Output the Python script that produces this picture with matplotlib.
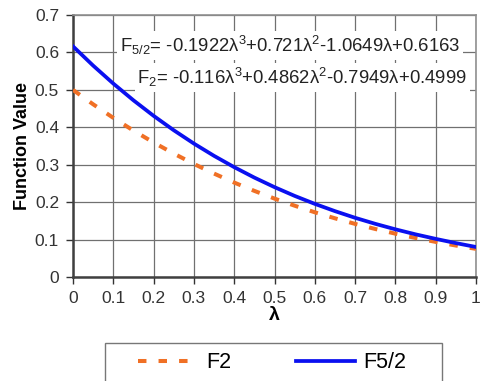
import matplotlib
matplotlib.use("Agg")
import matplotlib.pyplot as plt
from matplotlib.patches import Rectangle

plt.rcParams['font.family'] = ['Liberation Sans', 'DejaVu Sans']
plt.rcParams['mathtext.fontset'] = 'custom'
plt.rcParams['mathtext.rm'] = 'Liberation Sans'
plt.rcParams['mathtext.it'] = 'Liberation Sans'

# lambda values and function values
lam = [0, 0.05, 0.1, 0.15, 0.2, 0.25, 0.3, 0.35, 0.4, 0.45, 0.5,
       0.55, 0.6, 0.65, 0.7, 0.75, 0.8, 0.85, 0.9, 0.95, 1.0]
f52 = [0.6163, 0.5648, 0.5168, 0.4721, 0.4306, 0.3921, 0.3565, 0.3237, 0.2935, 0.2656, 0.2401,
       0.2167, 0.1954, 0.1760, 0.1582, 0.1421, 0.1274, 0.1140, 0.1019, 0.0906, 0.0802]
f2 = [0.4999, 0.4614, 0.4252, 0.3912, 0.3594, 0.3298, 0.3021, 0.2763, 0.2523, 0.2301, 0.2095,
      0.1905, 0.1729, 0.1568, 0.1419, 0.1283, 0.1158, 0.1043, 0.0938, 0.0841, 0.0752]
xticks = [0, 0.1, 0.2, 0.3, 0.4, 0.5, 0.6, 0.7, 0.8, 0.9, 1]
xlabels = ['0', '0.1', '0.2', '0.3', '0.4', '0.5', '0.6', '0.7', '0.8', '0.9', '1']
yticks = [0, 0.1, 0.2, 0.3, 0.4, 0.5, 0.6, 0.7]
ylabels = ['0', '0.1', '0.2', '0.3', '0.4', '0.5', '0.6', '0.7']
eq52 = r'F$_{5/2}$= -0.1922λ$^{3}$+0.721λ$^{2}$-1.0649λ+0.6163'
eq2 = r'F$_{2}$= -0.116λ$^{3}$+0.4862λ$^{2}$-0.7949λ+0.4999'

fig = plt.figure(figsize=(4.81, 3.81), dpi=100)
ax = fig.add_axes([73 / 481, 1 - 277 / 381, (476 - 73) / 481, (277 - 15) / 381])

ax.plot(lam, f2, color='#F07025', lw=2.9, dashes=(2.1, 3.0), dash_capstyle='butt', label='F2', zorder=3)
ax.plot(lam, f52, color='#0A10F0', lw=2.7, label='F5/2', zorder=4)

ax.set_xlim(0, 1)
ax.set_ylim(0, 0.7)
ax.set_xticks(xticks)
ax.set_xticklabels(xlabels)
ax.set_yticks(yticks)
ax.set_yticklabels(ylabels)
ax.grid(True, color='#707070', lw=0.9)
ax.set_axisbelow(True)
ax.tick_params(labelsize=12.5, colors='#333333', length=5, width=1, pad=5)
for s in ['top', 'right']:
    ax.spines[s].set_color('#909090')
    ax.spines[s].set_linewidth(1.2)
for s in ['left', 'bottom']:
    ax.spines[s].set_color('#404040')
    ax.spines[s].set_linewidth(1.8)

ax.set_xlabel('λ', fontsize=14, fontweight='bold', labelpad=1)
ax.set_ylabel('Function Value', fontsize=13, fontweight='bold', labelpad=3)

ax.text(0.116, 0.618, eq52, fontsize=13.3, color='#222222', va='center', ha='left', zorder=5,
        bbox=dict(facecolor='white', edgecolor='none', pad=2))
ax.text(0.160, 0.533, eq2, fontsize=13.3, color='#222222', va='center', ha='left', zorder=5,
        bbox=dict(facecolor='white', edgecolor='none', pad=2))

# legend frame below the plot
fig.patches.append(Rectangle((105 / 481, -0.02), (442 - 105) / 481, (381 - 343) / 381 + 0.02,
                             transform=fig.transFigure, facecolor='white',
                             edgecolor='#777777', lw=1.0))
leg = fig.legend(loc='center left', bbox_to_anchor=(138 / 481, 1 - 363 / 381), ncol=2,
                 fontsize=15.5, handlelength=2.75, columnspacing=3.0, handletextpad=0.4,
                 borderpad=0, borderaxespad=0, frameon=False)

fig.savefig('out.png', dpi=100)
